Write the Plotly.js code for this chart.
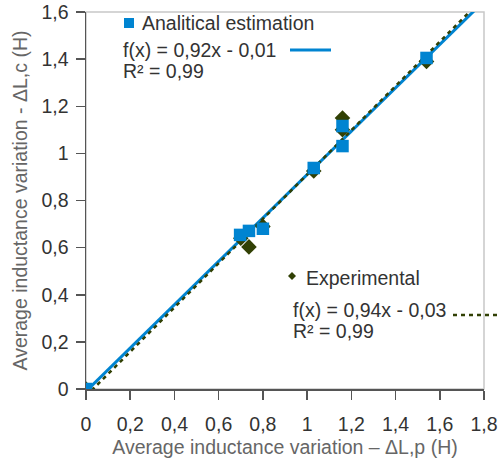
<!DOCTYPE html>
<html><head><meta charset="utf-8">
<script src="https://cdn.plot.ly/plotly-3.0.1.min.js"></script>
<style>html,body{margin:0;padding:0;background:#fff}#c{width:498px;height:464px}</style>
</head><body><div id="c"></div>
<script>
// Analytical estimation (squares)
const anaX = [0, 0.697, 0.737, 0.80, 1.03, 1.16, 1.16, 1.54];
const anaY = [0, 0.654, 0.671, 0.68, 0.938, 1.031, 1.116, 1.405];
// Experimental (diamonds)
const expX = [0, 0.70, 0.737, 0.80, 1.03, 1.16, 1.16, 1.54];
const expY = [0, 0.64, 0.603, 0.69, 0.925, 1.10, 1.15, 1.39];
// Regression coefficients
const anaFit = {slope: 0.92, intercept: -0.01};
const expFit = {slope: 0.94, intercept: -0.03};
const fitX = [0, 1.8];
const xTicks = [0,0.2,0.4,0.6,0.8,1,1.2,1.4,1.6,1.8];
const xTickText = ["0","0,2","0,4","0,6","0,8","1","1,2","1,4","1,6","1,8"];
const yTicks = [0,0.2,0.4,0.6,0.8,1,1.2,1.4,1.6];
const yTickText = ["0","0,2","0,4","0,6","0,8","1","1,2","1,4","1,6"];

const BLUE = '#0084d1', OLIVE = '#314004';
const FONT = 'Liberation Sans, Arial, sans-serif';

const traces = [
  {x: fitX, y: fitX.map(v => anaFit.slope*v + anaFit.intercept), mode:'lines',
   line:{color:BLUE, width:3}, hoverinfo:'skip'},
  {x: fitX, y: fitX.map(v => expFit.slope*v + expFit.intercept), mode:'lines',
   line:{color:OLIVE, width:2.5, dash:'4px,4px'}, hoverinfo:'skip'},
  {x: expX, y: expY, mode:'markers', marker:{symbol:'diamond', size:12, color:OLIVE}},
  {x: anaX, y: anaY, mode:'markers', marker:{symbol:'square', size:12.5, color:BLUE}}
];

function px(x){return (x-86)/398;}
function py(y){return (389-y)/377;}

const tf = {family: FONT, size: 19.5, color: '#333'};
const layout = {
  width: 498, height: 464,
  margin: {l:86, r:14, t:12, b:75},
  paper_bgcolor:'#fff', plot_bgcolor:'#fff',
  showlegend:false,
  font:{family:FONT, size:19.5, color:'#333'},
  xaxis:{range:[0,1.8], tickvals:xTicks, ticktext:xTickText, ticks:'outside', ticklen:9,
    tickcolor:'#555', tickwidth:1.5, showline:true, linecolor:'#555', linewidth:1.5,
    showgrid:false, zeroline:false, tickfont:tf, ticklabelstandoff:8,
    title:{text:'Average inductance variation – ΔL,p (H)', font:{family:FONT,size:19.5,color:'#666'}, standoff:6}},
  yaxis:{range:[0,1.6], tickvals:yTicks, ticktext:yTickText, ticks:'outside', ticklen:9,
    tickcolor:'#555', tickwidth:1.5, showline:true, linecolor:'#555', linewidth:1.5,
    showgrid:false, zeroline:false, tickfont:tf, ticklabelstandoff:3,
    title:{text:'Average inductance variation - ΔL,c (H)', font:{family:FONT,size:19.5,color:'#666'}, standoff:8}},
  shapes:[
    {type:'rect', xref:'paper', yref:'paper', x0:0, x1:1, y0:0, y1:1, line:{color:'#c8c8c8', width:1.5}, layer:'below'},
    {type:'rect', xref:'paper', yref:'paper', x0:px(124), x1:px(134), y0:py(28), y1:py(18), fillcolor:BLUE, line:{width:0}},
    {type:'line', xref:'paper', yref:'paper', x0:px(290), x1:px(331), y0:py(50), y1:py(50), line:{color:BLUE, width:3}},
    {type:'path', xref:'paper', yref:'paper',
     path:`M ${px(292)} ${py(272)} L ${px(296)} ${py(276)} L ${px(292)} ${py(280)} L ${px(288)} ${py(276)} Z`,
     fillcolor:OLIVE, line:{width:0}},
    {type:'line', xref:'paper', yref:'paper', x0:px(453), x1:px(498), y0:py(315), y1:py(315), line:{color:OLIVE, width:2.5, dash:'4px,4px'}}
  ],
  annotations:[
    {xref:'paper', yref:'paper', x:px(140), y:py(23), xanchor:'left', yanchor:'middle', showarrow:false, text:'Analitical estimation', font:tf},
    {xref:'paper', yref:'paper', x:px(121), y:py(50), xanchor:'left', yanchor:'middle', showarrow:false, text:'f(x) = 0,92x - 0,01', font:tf},
    {xref:'paper', yref:'paper', x:px(121), y:py(71), xanchor:'left', yanchor:'middle', showarrow:false, text:'R² = 0,99', font:tf},
    {xref:'paper', yref:'paper', x:px(304), y:py(278), xanchor:'left', yanchor:'middle', showarrow:false, text:'Experimental', font:tf},
    {xref:'paper', yref:'paper', x:px(291), y:py(310), xanchor:'left', yanchor:'middle', showarrow:false, text:'f(x) = 0,94x - 0,03', font:tf},
    {xref:'paper', yref:'paper', x:px(291), y:py(331), xanchor:'left', yanchor:'middle', showarrow:false, text:'R² = 0,99', font:tf}
  ]
};
Plotly.newPlot('c', traces, layout, {staticPlot:true, displayModeBar:false});
</script></body></html>
